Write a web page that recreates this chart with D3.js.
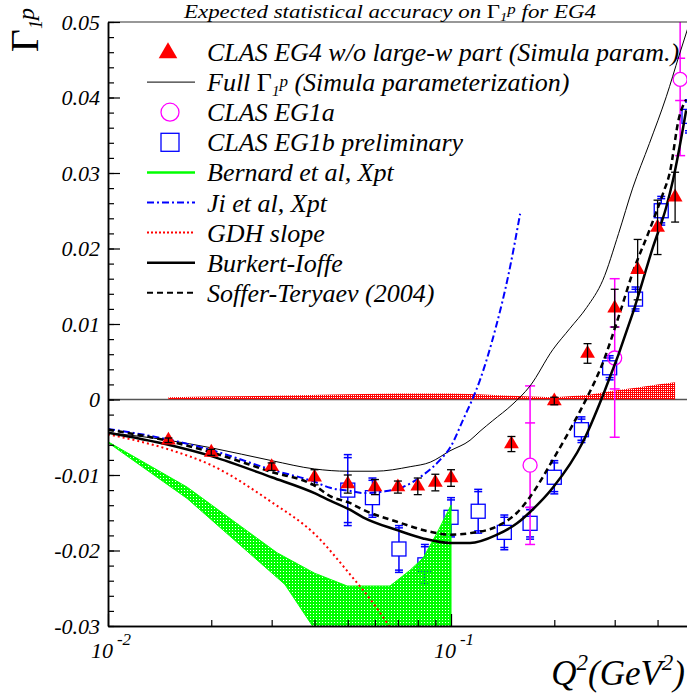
<!DOCTYPE html>
<html><head><meta charset="utf-8">
<script src="https://cdn.jsdelivr.net/npm/d3@7"></script>
<style>
html,body{margin:0;padding:0;background:#fff;}
svg{display:block;}
text{font-family:"Liberation Serif","Times New Roman",serif;font-style:italic;fill:#000;}
</style></head><body>
<svg id="c" width="687" height="698"></svg>
<script>
// ---------------- DATA ----------------
const eg4Q   = [0.015,0.02,0.03,0.04,0.05,0.06,0.07,0.08,0.09,0.10,0.15,0.20,0.25,0.30,0.35,0.40,0.45];
const eg4G   = [-0.0054,-0.0070,-0.0089,-0.0103,-0.0112,-0.0116,-0.0116,-0.0115,-0.0110,-0.0104,-0.0059,-0.0002,0.0061,0.0121,0.0172,0.0228,0.0268];
const eg4Err = [0.0003,0.0004,0.0005,0.0010,0.0012,0.0010,0.0008,0.0011,0.0011,0.0011,0.0010,0.0005,0.0013,0.0025,0.0040,0.0036,0.0033];

const eg1aQ     = [0.17,0.30,0.4655];
const eg1aG     = [-0.0087,0.0055,0.0424];
const eg1aErr   = [0.0105,0.0105,0.0101];
const eg1aErrIn = [0.0056,0.0041,0.0028];

const eg1bQ     = [0.05,0.059,0.0705,0.0839,0.1,0.12,0.143,0.17,0.2,0.24,0.29,0.345,0.41,0.494];
const eg1bG     = [-0.0120,-0.0130,-0.0198,-0.0219,-0.0156,-0.0148,-0.0176,-0.0164,-0.0103,-0.0040,0.0042,0.0133,0.0250,0.0375];
const eg1bErr   = [0.0047,0.0026,0.0031,0.0027,0.0026,0.0029,0.0023,0.0021,0.0022,0.0017,0.0016,0.0016,0.0019,0.0022];
const eg1bErrIn = [0.0043,0.0023,0.0028,0.0024,0.0023,0.0026,0.0020,0.0018,0.0019,0.0014,0.0013,0.0013,0.0016,0.0019];

const fullQ = [0.01,0.015,0.02,0.03,0.04,0.05,0.06,0.076,0.087,0.0993,0.1136,0.1215,0.1323,0.1506,0.17,0.198,0.222,0.2487,0.277,0.308,0.3385,0.3786,0.4241,0.4625,0.495];
const fullG = [-0.0044,-0.0054,-0.0064,-0.0081,-0.0092,-0.0095,-0.0095,-0.0089,-0.0083,-0.0068,-0.0054,-0.0042,-0.0028,-0.0007,0.0018,0.0066,0.0094,0.0122,0.0158,0.0220,0.0280,0.0339,0.0401,0.0456,0.0498];

const burkQ = [0.01,0.015,0.02,0.03,0.04,0.0444,0.0507,0.0554,0.0696,0.0829,0.0993,0.1136,0.1362,0.1557,0.17,0.198,0.2425,0.277,0.3385,0.388,0.4241,0.4439,0.4847];
const burkG = [-0.0044,-0.0060,-0.0075,-0.0103,-0.0124,-0.0134,-0.0146,-0.0156,-0.0173,-0.0184,-0.0190,-0.0190,-0.0179,-0.0164,-0.0149,-0.0117,-0.0056,0.0005,0.0114,0.0202,0.0255,0.0291,0.0383];

const softQ = [0.01,0.015,0.02,0.03,0.04,0.0444,0.0507,0.0554,0.0696,0.0867,0.0993,0.1136,0.1362,0.1557,0.17,0.198,0.2223,0.2487,0.2756,0.3102,0.3385,0.3786,0.415,0.434,0.462,0.4842];
const softG = [-0.0040,-0.0055,-0.0070,-0.0096,-0.0114,-0.0128,-0.0137,-0.0146,-0.0162,-0.0175,-0.0179,-0.0177,-0.0168,-0.0150,-0.0129,-0.0080,-0.0040,0.0002,0.0046,0.0114,0.0168,0.0224,0.0273,0.0300,0.0373,0.0397];

const jiQ = [0.01,0.015,0.02,0.03,0.04,0.0444,0.0507,0.0554,0.0633,0.0724,0.0829,0.0929,0.0993,0.1084,0.1215,0.135,0.147,0.159];
const jiG = [-0.0039,-0.0053,-0.0067,-0.0093,-0.0109,-0.0117,-0.0121,-0.0124,-0.0122,-0.0116,-0.0100,-0.0080,-0.0064,-0.0027,0.0026,0.0095,0.0165,0.0246];

const gdhQ = [0.01,0.015,0.02,0.03,0.04,0.05,0.06,0.066];
const gdhG = [-0.0046,-0.0066,-0.0087,-0.0136,-0.0178,-0.0228,-0.0273,-0.0300];

const bernUpQ = [0.01,0.017,0.0311,0.04,0.0498,0.0664,0.076,0.0829,0.091,0.1];
const bernUpG = [-0.0056,-0.0116,-0.0203,-0.0230,-0.0247,-0.0247,-0.0226,-0.0210,-0.0177,-0.0140];
const bernLoQ = [0.01,0.017,0.0328,0.0396,0.1];
const bernLoG = [-0.0057,-0.0131,-0.0245,-0.0301,-0.0301];

const sysQ = [0.015,0.02,0.03,0.05,0.07,0.1,0.12,0.15,0.17,0.2,0.25,0.3,0.35,0.4,0.45];
const sysH = [0.0003,0.0004,0.0005,0.0007,0.0008,0.0008,0.0007,0.0005,0.0004,0.0003,0.0006,0.0012,0.0016,0.0020,0.0023];

const yTickVals   = [-0.03,-0.02,-0.01,0,0.01,0.02,0.03,0.04,0.05];
const yTickLabels = ["-0.03","-0.02","-0.01","0","0.01","0.02","0.03","0.04","0.05"];
const xTickVals   = [0.01,0.1];
const xTickExp    = ["-2","-1"];
const xMinorVals  = [0.02,0.03,0.04,0.05,0.06,0.07,0.08,0.09,0.2,0.3,0.4];

const legendLabels = ["CLAS EG4 w/o large-w part (Simula param.)","Full |Γ|1|p (Simula parameterization)","CLAS EG1a","CLAS EG1b preliminary","Bernard et al, Xpt","Ji et al, Xpt","GDH slope","Burkert-Ioffe","Soffer-Teryaev (2004)"];

// ---------------- SETUP ----------------
const FONT = '"Liberation Serif","Times New Roman",serif';
const svg = d3.select("#c");
const L=108, T=22, R=690.8, B=626;
const x = d3.scaleLog().domain([0.01,0.5]).range([L,R]);
const y = d3.scaleLinear().domain([-0.03,0.05]).range([B,T]);
const zip = (a,b)=>a.map((v,i)=>[v,b[i]]);

const defs = svg.append("defs");
defs.append("clipPath").attr("id","clip").append("rect").attr("x",L).attr("y",T).attr("width",R-L).attr("height",B-T);
function pat(id,col,rects,n){
  const p=defs.append("pattern").attr("id",id).attr("patternUnits","userSpaceOnUse").attr("width",n).attr("height",n);
  rects.forEach(r=>p.append("rect").attr("x",r[0]).attr("y",r[1]).attr("width",r[2]).attr("height",r[3]).attr("fill",col));
}
pat("gp","#00ff00",[[0,0,3,1],[0,1,1,1],[2,1,1,1],[0,2,3,1]],3);
pat("rp","#ff0000",[[0,0,2,1],[0,1,1,1]],2);

const plot = svg.append("g").attr("clip-path","url(#clip)");

// zero line
plot.append("line").attr("x1",L).attr("x2",R).attr("y1",y(0)).attr("y2",y(0)).attr("stroke","#555").attr("stroke-width",1.5);

// red systematic band
plot.append("path").datum(zip(sysQ,sysH))
  .attr("d",d3.area().x(d=>x(d[0])).y0(y(0)).y1(d=>y(d[1])))
  .attr("fill","url(#rp)");

// EG1b squares
const sq=7;
eg1bQ.forEach((q,i)=>{
  const cx=x(q), cy=y(eg1bG[i]);
  const g=plot.append("g").attr("stroke","#0000ff").attr("fill","none").attr("stroke-width",1.5);
  g.append("line").attr("x1",cx).attr("x2",cx).attr("y1",y(eg1bG[i]+eg1bErr[i])).attr("y2",cy-sq);
  g.append("line").attr("x1",cx).attr("x2",cx).attr("y1",cy+sq).attr("y2",y(eg1bG[i]-eg1bErr[i]));
  [eg1bErr[i],-eg1bErr[i],eg1bErrIn[i],-eg1bErrIn[i]].forEach(e=>{
    g.append("line").attr("x1",cx-4).attr("x2",cx+4).attr("y1",y(eg1bG[i]+e)).attr("y2",y(eg1bG[i]+e));
  });
  g.append("rect").attr("x",cx-sq).attr("y",cy-sq).attr("width",2*sq).attr("height",2*sq).attr("stroke-width",1.3);
});

// EG1a circles
eg1aQ.forEach((q,i)=>{
  const cx=x(q), cy=y(eg1aG[i]);
  const g=plot.append("g").attr("stroke","#ff00ff").attr("fill","none").attr("stroke-width",1.5);
  g.append("line").attr("x1",cx).attr("x2",cx).attr("y1",y(eg1aG[i]+eg1aErr[i])).attr("y2",cy-7);
  g.append("line").attr("x1",cx).attr("x2",cx).attr("y1",cy+7).attr("y2",y(eg1aG[i]-eg1aErr[i]));
  [eg1aErr[i],-eg1aErr[i],eg1aErrIn[i],-eg1aErrIn[i]].forEach(e=>{
    g.append("line").attr("x1",cx-5).attr("x2",cx+5).attr("y1",y(eg1aG[i]+e)).attr("y2",y(eg1aG[i]+e));
  });
  g.append("circle").attr("cx",cx).attr("cy",cy).attr("r",7).attr("stroke-width",1.3);
});

// Bernard band
const bandPts = zip(bernUpQ,bernUpG).concat(zip(bernLoQ,bernLoG).reverse());
plot.append("path")
  .attr("d",d3.line().x(d=>x(d[0])).y(d=>y(d[1]))(bandPts)+"Z")
  .attr("fill","url(#gp)").attr("stroke","#00ff00").attr("stroke-width",1);

// curves
const ln = d3.line().x(d=>x(d[0])).y(d=>y(d[1])).curve(d3.curveMonotoneX);
const curves = [
  {q:fullQ,g:fullG,c:"#000",w:1,da:null},
  {q:gdhQ,g:gdhG,c:"#ff0000",w:2,da:"2,3"},
  {q:jiQ,g:jiG,c:"#0000ff",w:2,da:"7,3,2,3"},
  {q:softQ,g:softG,c:"#000",w:2.5,da:"6,4"},
  {q:burkQ,g:burkG,c:"#000",w:2.5,da:null}
];
curves.forEach(c=>{
  plot.append("path").datum(zip(c.q,c.g)).attr("d",ln).attr("fill","none")
    .attr("stroke",c.c).attr("stroke-width",c.w).attr("stroke-dasharray",c.da);
});

// EG4 triangles
const tri = d3.symbol().type(d3.symbolTriangle).size(95);
eg4Q.forEach((q,i)=>{
  const cx=x(q), cy=y(eg4G[i]);
  plot.append("path").attr("d",tri).attr("transform",`translate(${cx},${cy})`).attr("fill","#ff0000");
  const g=plot.append("g").attr("stroke","#000").attr("stroke-width",1.3);
  g.append("line").attr("x1",cx).attr("x2",cx).attr("y1",y(eg4G[i]+eg4Err[i])).attr("y2",y(eg4G[i]-eg4Err[i]));
  [eg4Err[i],-eg4Err[i]].forEach(e=>g.append("line").attr("x1",cx-4).attr("x2",cx+4).attr("y1",y(eg4G[i]+e)).attr("y2",y(eg4G[i]+e)));
});

// ---------------- AXES ----------------
const axG = svg.append("g");
axG.append("line").attr("x1",L).attr("x2",R).attr("y1",T).attr("y2",T).attr("stroke","#333").attr("stroke-width",1.2);

const yMinor = d3.range(-15,26).map(i=>+(i*0.002).toFixed(3));
const yMin = svg.append("g").attr("transform",`translate(${L},0)`)
  .call(d3.axisLeft(y).tickValues(yMinor).tickSizeInner(-6).tickSizeOuter(0).tickFormat(""));
const yMaj = svg.append("g").attr("transform",`translate(${L},0)`)
  .call(d3.axisLeft(y).tickValues(yTickVals).tickSizeInner(-12).tickSizeOuter(0).tickPadding(8).tickFormat((d,i)=>yTickLabels[i]));
yMaj.selectAll("text").style("font-size","22px").style("font-family",FONT).style("font-style","italic");

const xMin = svg.append("g").attr("transform",`translate(0,${B})`)
  .call(d3.axisBottom(x).tickValues(xMinorVals).tickSizeInner(-6).tickSizeOuter(0).tickFormat(""));
const xMaj = svg.append("g").attr("transform",`translate(0,${B})`)
  .call(d3.axisBottom(x).tickValues(xTickVals).tickSizeInner(-12).tickSizeOuter(0).tickFormat(""));
[yMin,yMaj,xMin,xMaj].forEach(a=>{a.selectAll(".domain").attr("stroke","#000").attr("stroke-width",1.5);a.selectAll(".tick line").attr("stroke","#000").attr("stroke-width",1.2);});

xTickVals.forEach((v,i)=>{
  const t=svg.append("text").attr("x",x(v)+3).attr("y",658).attr("text-anchor","middle").style("font-size","22px");
  t.append("tspan").text("10");
  t.append("tspan").attr("dy",-13).attr("dx",4).style("font-size","17px").text(xTickExp[i]);
});

// x title
const xt = svg.append("text").attr("x",685).attr("y",685).attr("text-anchor","end").style("font-size","35px");
xt.append("tspan").text("Q");
xt.append("tspan").attr("dy",-15).style("font-size","23px").text("2");
xt.append("tspan").attr("dy",15).text("(GeV");
xt.append("tspan").attr("dy",-15).style("font-size","23px").text("2");
xt.append("tspan").attr("dy",15).text(")");

// y title (rotated)
const yt = svg.append("text").attr("transform","translate(38,8) rotate(-90)").attr("text-anchor","end").style("font-size","40px").style("font-style","normal");
yt.append("tspan").text("Γ");
yt.append("tspan").attr("dy",4).style("font-size","18px").style("font-style","italic").text("1");
yt.append("tspan").attr("dy",-8).style("font-size","24px").style("font-style","italic").text("p");

// title
const tt = svg.append("text").attr("x",390).attr("y",18).attr("text-anchor","middle").style("font-size","19px")
  .attr("textLength",412).attr("lengthAdjust","spacingAndGlyphs");
tt.append("tspan").text("Expected statistical accuracy on ");
tt.append("tspan").style("font-style","normal").text("Γ");
tt.append("tspan").attr("dy",3).style("font-size","12px").text("1");
tt.append("tspan").attr("dy",-7).style("font-size","14px").text("p");
tt.append("tspan").attr("dy",4).text(" for EG4");

// ---------------- LEGEND ----------------
const lg = svg.append("g");
const rowY = i=>52+i*30.1;
const lx1=147, lx2=195, lcx=170, ltx=207;
legendLabels.forEach((lab,i)=>{
  const ty=rowY(i)+9;
  const t=lg.append("text").attr("x",ltx).attr("y",ty).style("font-size","26px");
  if(lab.includes("|")){
    const parts=lab.split("|");
    t.append("tspan").text(parts[0]);
    t.append("tspan").text(parts[1]).style("font-style","normal");
    t.append("tspan").attr("dy",5).style("font-size","15px").text(parts[2]);
    t.append("tspan").attr("dy",-9).style("font-size","17px").text(parts[3].charAt(0));
    t.append("tspan").attr("dy",4).text(parts[3].slice(1));
  } else t.text(lab);
});
lg.append("path").attr("d",d3.symbol().type(d3.symbolTriangle).size(150)).attr("transform",`translate(${lcx-2},${rowY(0)+1})`).attr("fill","#ff0000");
lg.append("line").attr("x1",lx1).attr("x2",lx2).attr("y1",rowY(1)).attr("y2",rowY(1)).attr("stroke","#000").attr("stroke-width",1);
lg.append("circle").attr("cx",lcx).attr("cy",rowY(2)).attr("r",9).attr("fill","none").attr("stroke","#ff00ff").attr("stroke-width",1.3);
lg.append("rect").attr("x",lcx-9).attr("y",rowY(3)-9).attr("width",18).attr("height",18).attr("fill","none").attr("stroke","#0000ff").attr("stroke-width",1.3);
[[4,"#00ff00",2.5,null],[5,"#0000ff",2,"7,3,2,3"],[6,"#ff0000",2,"2,2"],[7,"#000",2.5,null],[8,"#000",2,"6,4"]].forEach(s=>{
  lg.append("line").attr("x1",lx1).attr("x2",lx2).attr("y1",rowY(s[0])).attr("y2",rowY(s[0])).attr("stroke",s[1]).attr("stroke-width",s[2]).attr("stroke-dasharray",s[3]);
});
</script>
</body></html>
